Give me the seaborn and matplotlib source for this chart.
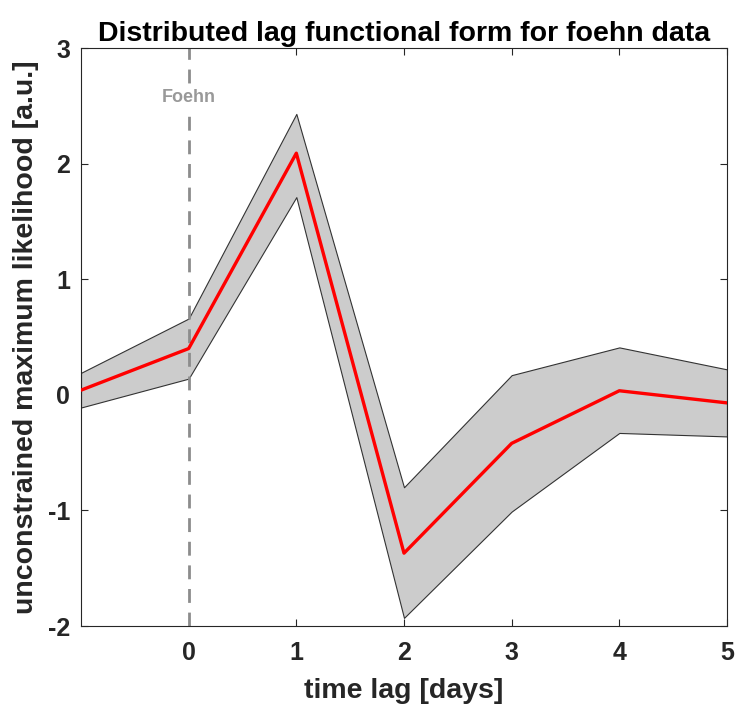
import numpy as np
import pandas as pd
import seaborn as sns
import matplotlib
matplotlib.use("Agg")
import matplotlib.pyplot as plt

lag_days = [-1, 0, 1, 2, 3, 4, 5]
estimate = [0.04, 0.40, 2.09, -1.37, -0.42, 0.035, -0.07]
upper = [0.19, 0.66, 2.43, -0.80, 0.17, 0.41, 0.22]
lower = [-0.11, 0.14, 1.71, -1.93, -1.01, -0.33, -0.36]
xticks = [0, 1, 2, 3, 4, 5]
yticks = [-2, -1, 0, 1, 2, 3]

sns.set_theme(style="white")
plt.rcParams['font.family'] = ['Liberation Sans', 'DejaVu Sans']
plt.rcParams['font.weight'] = 'bold'

df = pd.DataFrame({"lag": lag_days, "est": estimate})

fig = plt.figure(figsize=(7.35, 7.06), dpi=100)
ax = fig.add_axes([81/735, 1-626/706, (727-81)/735, (626-48)/706])

ax.fill_between(lag_days, lower, upper, facecolor="#cccccc", edgecolor="#333333", linewidth=0.8, zorder=1)
ax.axvline(0, color="#8c8c8c", linestyle=(0, (5, 3.5)), linewidth=2.0, zorder=2)
sns.lineplot(data=df, x="lag", y="est", ax=ax, color="#ff0000", linewidth=2.4, zorder=3)
ax.text(0, 2.57, "Foehn", color="#999999", fontsize=13, fontweight="bold", ha="center", va="center",
        bbox=dict(facecolor="white", edgecolor="none", pad=1.5), zorder=4)

ax.set_xlim(-1, 5)
ax.set_ylim(-2, 3)
ax.set_xticks(xticks)
ax.set_yticks(yticks)
ax.set_xticklabels([str(t) for t in xticks])
ax.set_yticklabels([str(t) for t in yticks])
ax.tick_params(direction="in", length=5, width=0.8, color="#262626", labelcolor="#262626",
               labelsize=18, top=True, right=True, bottom=True, left=True)
ax.tick_params(axis="x", pad=11)
ax.tick_params(axis="y", pad=8)
for lab in ax.get_xticklabels() + ax.get_yticklabels():
    lab.set_fontweight("bold")
for s in ax.spines.values():
    s.set_color("#262626")
    s.set_linewidth(0.8)
    s.set_visible(True)

ax.set_xlabel("time lag [days]", fontsize=20.5, fontweight="bold", color="#262626", labelpad=9)
ax.set_ylabel("unconstrained maximum likelihood [a.u.]", fontsize=20.5, fontweight="bold", color="#262626", labelpad=6)
ax.set_title("Distributed lag functional form for foehn data", fontsize=20.5, fontweight="bold", color="black", pad=5)

fig.savefig("out.png", dpi=100)
